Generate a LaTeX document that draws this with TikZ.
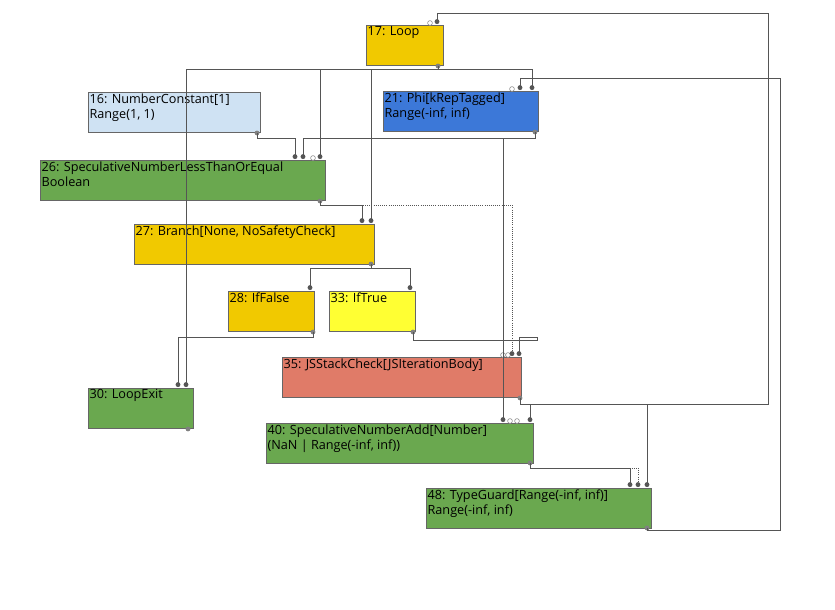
\documentclass[tikz,border=0pt]{standalone}
\usepackage{fontspec}
\setmainfont{Open Sans}
\usetikzlibrary{arrows.meta}
\definecolor{yell}{HTML}{F1C900}
\definecolor{brightyell}{HTML}{FFFF33}
\definecolor{lblue}{HTML}{CFE2F3}
\definecolor{phiblue}{HTML}{3C78D8}
\definecolor{grn}{HTML}{6AA84F}
\definecolor{salmon}{HTML}{E07B68}
\definecolor{wire}{HTML}{555555}
\begin{document}
\begin{tikzpicture}[x=0.75pt,y=-0.75pt,
box/.style={rectangle, draw=black!60, anchor=north west, inner sep=0pt},
edge/.style={draw=wire, line width=0.6pt, -{Circle[length=3.6pt]}},
dotted edge/.style={edge, densely dotted},
port/.style={circle, fill=gray, inner sep=0pt, minimum size=3.6pt},
free/.style={circle, draw=gray, fill=white, inner sep=0pt, minimum size=3.6pt}
]
\useasboundingbox (0,0) rectangle (835,610);
\newcommand\graphnode[6]{%
  \node[box, fill=#2, minimum width=#5*0.75pt, minimum height=40*0.75pt]
    (#1) at (#3,#4) {};
  \node[anchor=north west, align=left, inner sep=1pt, font=\fontsize{9.5}{11.5}\selectfont]
    at (#1.north west) {#6};}
%Nodes
\graphnode{loop}{yell}{366}{25}{77}{17: Loop}
\graphnode{const}{lblue}{88}{92}{172}{16: NumberConstant[1]\\Range(1, 1)}
\graphnode{phi}{phiblue}{383}{91}{155}{21: Phi[kRepTagged]\\Range(-inf, inf)}
\graphnode{less}{grn}{40}{160}{285}{26: SpeculativeNumberLessThanOrEqual\\Boolean}
\graphnode{branch}{yell}{134}{224}{240}{27: Branch[None, NoSafetyCheck]}
\graphnode{iffalse}{yell}{228}{291}{86}{28: IfFalse}
\graphnode{iftrue}{brightyell}{329}{291}{86}{33: IfTrue}
\graphnode{stack}{salmon}{282}{357}{239}{35: JSStackCheck[JSIterationBody]}
\graphnode{exit}{grn}{88}{388}{105}{30: LoopExit}
\graphnode{add}{grn}{266}{423}{267}{40: SpeculativeNumberAdd[Number]\\(NaN | Range(-inf, inf))}
\graphnode{guard}{grn}{426}{488}{225}{48: TypeGuard[Range(-inf, inf)]\\Range(-inf, inf)}
%Ports
\coordinate (loop-o) at (438,66);
\coordinate (loop-i) at (437,24);
\coordinate (const-o) at (257,133);
\coordinate (phi-o) at (535,132);
\coordinate (phi-i1) at (520,90);
\coordinate (phi-i2) at (532,90);
\coordinate (less-o) at (320,201);
\coordinate (branch-o) at (371,264);
\coordinate (iffalse-o) at (313,332);
\coordinate (iftrue-o) at (413,332);
\coordinate (stack-o) at (520,398);
\coordinate (add-o) at (530,463);
\coordinate (guard-o) at (647,528);
\coordinate (exit-o) at (188,429);
\foreach \n/\x/\y in {less-i1/295/159, less-i2/303/159, less-i3/320/159,
    branch-i1/362/223, branch-i2/371/223, iffalse-i/310/290, iftrue-i/410/290,
    exit-i1/178/387, exit-i2/186/387, stack-i1/512/356, stack-i2/519/356,
    add-i1/503/422, add-i2/530/422, guard-i1/630/487, guard-i2/638/487, guard-i3/647/487}
  \coordinate (\n) at (\x,\y);
\foreach \p in {loop-o,const-o,phi-o,less-o,branch-o,iffalse-o,iftrue-o,stack-o,add-o,guard-o,exit-o}
  \node[port] at (\p) {};
\foreach \x/\y in {430/23,512/89,313/158,503/355,508/355,510/421,517/421}
  \node[free] at (\x,\y) {};
%Edges
\draw[edge] (loop-o) |- (186,69) -- (exit-i2);
\draw[edge] (loop-o) |- (532,69) -- (phi-i2);
\draw[edge] (loop-o) |- (320,69) -- (less-i3);
\draw[edge] (loop-o) |- (371,69) -- (branch-i2);
\draw[edge] (const-o) |- (295,138) -- (less-i1);
\draw[edge] (phi-o) |- (303,138) -- (less-i2);
\draw[edge] (phi-o) |- (503,138) -- (add-i1);
\draw[edge] (less-o) |- (362,205) -- (branch-i1);
\draw[dotted edge] (less-o) |- (512,205) -- (stack-i1);
\draw[edge] (branch-o) |- (310,268) -- (iffalse-i);
\draw[edge] (branch-o) |- (410,268) -- (iftrue-i);
\draw[edge] (iffalse-o) |- (178,337) -- (exit-i1);
\draw[edge] (iftrue-o) |- (537,340) -- (537,337) -| (stack-i2);
\draw[edge] (stack-o) |- (768,404) |- (437,13) -- (loop-i);
\draw[edge] (stack-o) |- (530,404) -- (add-i2);
\draw[edge] (stack-o) |- (647,404) -- (guard-i3);
\draw[edge] (add-o) |- (630,468) -- (guard-i1);
\draw[dotted edge] (add-o) |- (638,468) -- (guard-i2);
\draw[edge] (guard-o) |- (780,530) |- (520,78) -- (phi-i1);
\end{tikzpicture}
\end{document}
